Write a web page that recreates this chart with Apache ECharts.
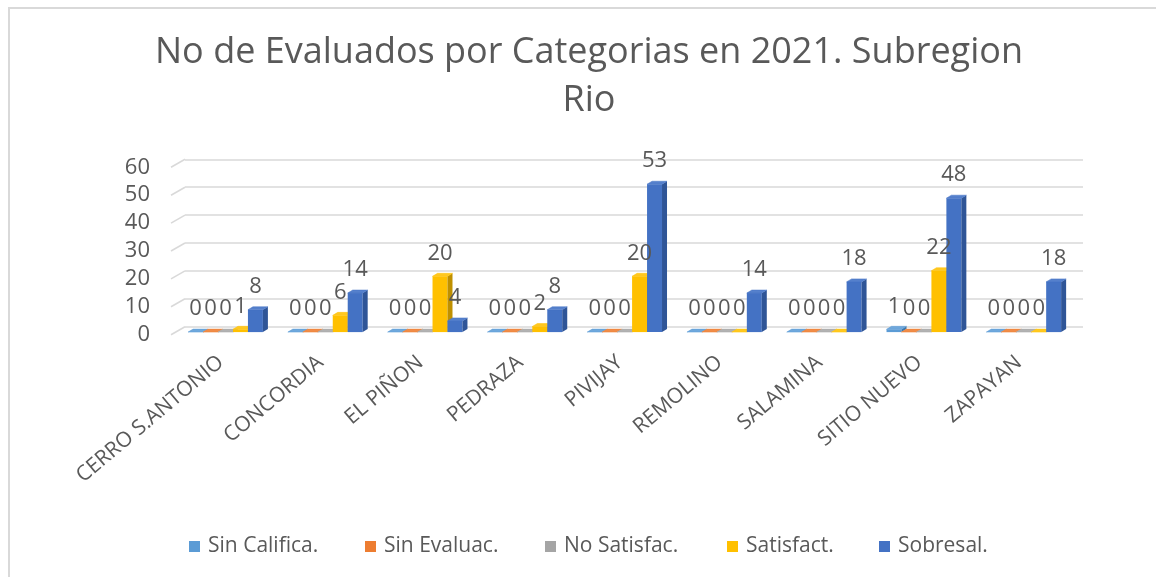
<!DOCTYPE html>
<html>
<head>
<meta charset="utf-8">
<script src="https://cdn.jsdelivr.net/npm/echarts@6/dist/echarts.min.js"></script>
<style>
  html, body { margin: 0; padding: 0; background: #fff; }
  #chart { width: 1156px; height: 577px; }
</style>
</head>
<body>
<div id="chart"></div>
<script>
const categories = ['CERRO S.ANTONIO', 'CONCORDIA', 'EL PIÑON', 'PEDRAZA', 'PIVIJAY', 'REMOLINO', 'SALAMINA', 'SITIO NUEVO', 'ZAPAYAN'];
const yTicks = [0, 10, 20, 30, 40, 50, 60];

const sinCalifica = [0, 0, 0, 0, 0, 0, 0, 1, 0];
const sinEvaluac = [0, 0, 0, 0, 0, 0, 0, 0, 0];
const noSatisfac = [0, 0, 0, 0, 0, 0, 0, 0, 0];
const satisfact = [1, 6, 20, 2, 20, 0, 0, 22, 0];
const sobresal = [8, 14, 4, 8, 53, 14, 18, 48, 18];

const seriesDefs = [
  { name: 'Sin Califica.', values: sinCalifica, front: '#5B9BD5', side: '#3F77AA', top: '#6FA8DC', legendX: 189 },
  { name: 'Sin Evaluac.', values: sinEvaluac, front: '#ED7D31', side: '#B85E22', top: '#F08C48', legendX: 365 },
  { name: 'No Satisfac.', values: noSatisfac, front: '#A5A5A5', side: '#7F7F7F', top: '#B2B2B2', legendX: 545 },
  { name: 'Satisfact.', values: satisfact, front: '#FFC000', side: '#BF9000', top: '#FFC820', legendX: 727 },
  { name: 'Sobresal.', values: sobresal, front: '#4472C4', side: '#2F5597', top: '#5580CC', legendX: 879 }
];

// back wall -> front of floor offset, and bar depth
const wallDx = -14, wallDy = 8;
const barDx = -9.4, barDy = 5.4;
const sideDx = 5, sideDy = -3;
const textColor = '#595959';
const font = 'Open Sans';

const chart = echarts.init(document.getElementById('chart'));

function barSeries(def, idx) {
  return {
    type: 'custom',
    name: def.name,
    xAxisIndex: 0,
    yAxisIndex: 0,
    z: 3,
    itemStyle: { color: def.front },
    data: def.values.map((v, i) => [i, v]),
    renderItem: (params, api) => {
      const c = api.value(0);
      const v = api.value(1);
      const top = api.coord([c, v]);
      const base = api.coord([c, 0]);
      const bandW = api.size([1, 0])[0];
      const groupW = bandW * 0.75;
      const w = groupW / 5;
      const x0 = top[0] - groupW / 2 + idx * w + barDx;
      const yt = top[1] + barDy;
      const yb = base[1] + barDy;
      const children = [];
      if (yb - yt > 0.5) {
        children.push({
          type: 'rect', z2: idx * 10,
          shape: { x: x0, y: yt, width: w, height: yb - yt },
          style: { fill: def.front }
        });
        children.push({
          type: 'polygon', z2: idx * 10 + 1,
          shape: { points: [[x0 + w, yt], [x0 + w + sideDx, yt + sideDy], [x0 + w + sideDx, yb + sideDy], [x0 + w, yb]] },
          style: { fill: def.side }
        });
      }
      children.push({
        type: 'polygon', z2: idx * 10 + 2,
        shape: { points: [[x0, yt], [x0 + sideDx, yt + sideDy], [x0 + w + sideDx, yt + sideDy], [x0 + w, yt]] },
        style: { fill: def.top, stroke: def.front, lineWidth: 0.5 }
      });
      children.push({
        type: 'text', z2: 1000,
        style: {
          text: String(v), x: x0 + w / 2, y: yt - 23,
          align: 'center', verticalAlign: 'middle',
          fontSize: 22, fontFamily: font, fill: textColor
        }
      });
      return { type: 'group', children };
    }
  };
}

const gridSlants = {
  type: 'custom',
  name: 'slants',
  xAxisIndex: 0,
  yAxisIndex: 0,
  z: 1,
  silent: true,
  data: yTicks.map(t => [0, t]),
  renderItem: (params, api) => {
    const y = api.coord([0, api.value(1)])[1];
    const x = params.coordSys.x;
    return {
      type: 'line',
      shape: { x1: x, y1: y, x2: x + wallDx, y2: y + wallDy },
      style: { stroke: '#d9d9d9', lineWidth: 1.6 }
    };
  }
};

chart.setOption({
  backgroundColor: '#fff',
  animation: false,
  title: {
    text: 'No de Evaluados por Categorias en 2021. Subregion\nRio',
    left: 584,
    top: 24,
    textAlign: 'center',
    textStyle: { fontFamily: font, fontSize: 36, fontWeight: 'normal', color: textColor, lineHeight: 48 }
  },
  graphic: [{
    type: 'polyline',
    shape: { points: [[9, 577], [9, 8], [1156, 8]] },
    style: { stroke: '#d9d9d9', lineWidth: 2, fill: null }
  }],
  // one legend per item so each sits where it does in the picture
  legend: seriesDefs.map(d => ({
    data: [d.name],
    icon: 'rect',
    itemWidth: 11,
    itemHeight: 11,
    itemGap: 0,
    left: d.legendX - 5,
    top: 531,
    textStyle: { fontFamily: font, fontSize: 21, color: textColor, padding: [0, 0, 0, 3] }
  })),
  grid: [
    { left: 185, right: 73, top: 159.3, bottom: 250.3 },
    { left: 185 + wallDx, right: 73 - wallDx, top: 159.3 + wallDy, bottom: 250.3 - wallDy }
  ],
  xAxis: [
    {
      type: 'category', gridIndex: 0, data: categories,
      axisLine: { show: false }, axisTick: { show: false }, axisLabel: { show: false }
    },
    {
      type: 'category', gridIndex: 1, data: categories,
      axisLine: { show: false }, axisTick: { show: false },
      axisLabel: { rotate: 40, margin: 25, interval: 0, fontFamily: font, fontSize: 21, color: textColor }
    }
  ],
  yAxis: [
    {
      type: 'value', gridIndex: 0, min: 0, max: 60, interval: 10,
      axisLine: { show: false }, axisTick: { show: false }, axisLabel: { show: false },
      splitLine: { lineStyle: { color: '#d9d9d9', width: 1.6 } }
    },
    {
      type: 'value', gridIndex: 1, min: 0, max: 60, interval: 10,
      axisLine: { show: false }, axisTick: { show: false }, splitLine: { show: false },
      axisLabel: { margin: 21, fontFamily: font, fontSize: 22, color: textColor }
    }
  ],
  series: [gridSlants].concat(seriesDefs.map(barSeries))
});
</script>
</body>
</html>
